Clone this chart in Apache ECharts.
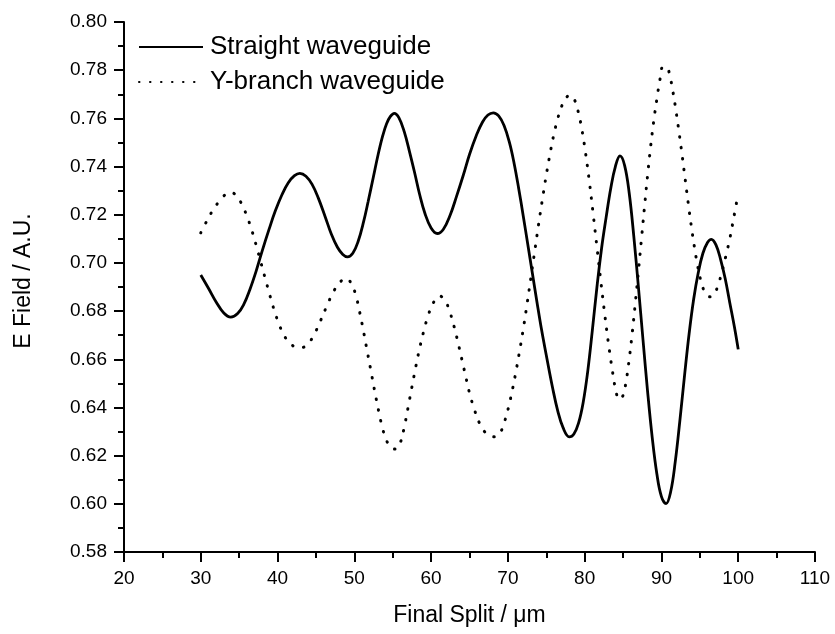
<!DOCTYPE html>
<html>
<head>
<meta charset="utf-8">
<script src="https://cdn.jsdelivr.net/npm/echarts@6/dist/echarts.min.js"></script>
<style>
html,body{margin:0;padding:0;background:#fff;}
#c{width:835px;height:634px;}
</style>
</head>
<body>
<div id="c"></div>
<script>
var xTicks = [20, 30, 40, 50, 60, 70, 80, 90, 100, 110];
var yTicks = [0.58, 0.60, 0.62, 0.64, 0.66, 0.68, 0.70, 0.72, 0.74, 0.76, 0.78, 0.80];
var seriesNames = ["Straight waveguide", "Y-branch waveguide"];

var straightX = [30.0, 31.0, 32.0, 33.0, 33.9, 34.8, 35.6, 36.4, 37.2, 38.0, 38.9, 39.7, 40.6, 41.4, 42.2, 42.9, 43.7, 44.5, 45.3, 46.2, 47.0, 47.8, 48.5, 49.1, 49.8, 50.5, 51.2, 51.8, 52.5, 53.1, 53.7, 54.2, 54.7, 55.2, 55.8, 56.5, 57.2, 57.9, 58.5, 59.2, 60.0, 60.8, 61.6, 62.5, 63.3, 64.2, 65.0, 65.9, 66.7, 67.4, 68.1, 68.8, 69.5, 70.2, 70.8, 71.4, 72.0, 72.6, 73.2, 73.8, 74.4, 75.1, 75.8, 76.5, 77.2, 78.0, 78.6, 79.2, 79.8, 80.4, 81.0, 81.6, 82.2, 82.8, 83.4, 84.0, 84.6, 85.2, 85.8, 86.4, 87.0, 87.6, 88.2, 88.8, 89.4, 90.0, 90.6, 91.2, 91.8, 92.4, 93.0, 93.6, 94.2, 94.8, 95.4, 96.0, 96.5, 97.1, 97.7, 98.3, 98.9, 99.5, 100.0];
var straightY = [0.6950, 0.6895, 0.6838, 0.6792, 0.6775, 0.6790, 0.6828, 0.6890, 0.6965, 0.7050, 0.7140, 0.7215, 0.7285, 0.7333, 0.7362, 0.7372, 0.7360, 0.7326, 0.7270, 0.7192, 0.7120, 0.7065, 0.7035, 0.7025, 0.7040, 0.7090, 0.7170, 0.7255, 0.7360, 0.7450, 0.7528, 0.7578, 0.7608, 0.7621, 0.7603, 0.7545, 0.7460, 0.7368, 0.7285, 0.7205, 0.7145, 0.7122, 0.7140, 0.7200, 0.7275, 0.7365, 0.7450, 0.7530, 0.7585, 0.7614, 0.7623, 0.7610, 0.7570, 0.7500, 0.7415, 0.7310, 0.7195, 0.7075, 0.6955, 0.6835, 0.6720, 0.6600, 0.6485, 0.6385, 0.6315, 0.6278, 0.6290, 0.6335, 0.6420, 0.6550, 0.6720, 0.6900, 0.7060, 0.7190, 0.7310, 0.7400, 0.7444, 0.7405, 0.7290, 0.7110, 0.6900, 0.6680, 0.6465, 0.6275, 0.6125, 0.6030, 0.6001, 0.6050, 0.6175, 0.6345, 0.6530, 0.6705, 0.6850, 0.6960, 0.7040, 0.7085, 0.7098, 0.7075, 0.7015, 0.6935, 0.6835, 0.6735, 0.6641];

var yBranchX = [30.0, 30.8, 31.6, 32.4, 33.0, 33.6, 34.2, 34.8, 35.4, 36.0, 36.6, 37.2, 37.8, 38.4, 39.0, 39.6, 40.2, 40.8, 41.5, 42.3, 43.2, 44.0, 44.8, 45.6, 46.4, 47.2, 48.0, 48.9, 49.6, 50.2, 50.7, 51.2, 51.7, 52.2, 52.7, 53.2, 53.7, 54.2, 54.8, 55.4, 56.0, 56.5, 57.0, 57.5, 58.0, 58.5, 59.0, 59.6, 60.3, 61.1, 61.8, 62.4, 63.0, 63.5, 64.0, 64.5, 65.0, 65.6, 66.3, 67.0, 67.7, 68.4, 69.0, 69.5, 70.0, 70.5, 71.0, 71.5, 72.0, 72.5, 73.0, 73.5, 74.0, 74.5, 75.0, 75.5, 76.0, 76.5, 77.0, 77.5, 78.1, 78.6, 79.1, 79.6, 80.1, 80.6, 81.1, 81.6, 82.1, 82.6, 83.1, 83.6, 84.0, 84.5, 85.0, 85.4, 85.8, 86.2, 86.6, 87.0, 87.4, 87.8, 88.2, 88.6, 89.0, 89.4, 89.8, 90.2, 90.7, 91.1, 91.5, 91.9, 92.3, 92.7, 93.1, 93.5, 93.9, 94.3, 94.7, 95.1, 95.6, 96.0, 96.4, 96.9, 97.4, 97.9, 98.4, 98.9, 99.4, 100.0];
var yBranchY = [0.7125, 0.7175, 0.7220, 0.7256, 0.7278, 0.7292, 0.7290, 0.7272, 0.7240, 0.7195, 0.7140, 0.7075, 0.7005, 0.6935, 0.6865, 0.6800, 0.6745, 0.6702, 0.6670, 0.6652, 0.6649, 0.6665, 0.6705, 0.6760, 0.6820, 0.6875, 0.6915, 0.6936, 0.6915, 0.6865, 0.6795, 0.6715, 0.6630, 0.6545, 0.6460, 0.6380, 0.6310, 0.6262, 0.6233, 0.6227, 0.6255, 0.6318, 0.6400, 0.6485, 0.6568, 0.6645, 0.6712, 0.6780, 0.6835, 0.6863, 0.6845, 0.6800, 0.6735, 0.6670, 0.6600, 0.6530, 0.6460, 0.6395, 0.6335, 0.6298, 0.6282, 0.6278, 0.6295, 0.6335, 0.6390, 0.6460, 0.6540, 0.6630, 0.6725, 0.6830, 0.6940, 0.7050, 0.7160, 0.7265, 0.7365, 0.7455, 0.7535, 0.7600, 0.7650, 0.7682, 0.7697, 0.7682, 0.7635, 0.7560, 0.7460, 0.7340, 0.7205, 0.7065, 0.6925, 0.6790, 0.6665, 0.6555, 0.6480, 0.6433, 0.6450, 0.6510, 0.6600, 0.6710, 0.6835, 0.6965, 0.7100, 0.7235, 0.7365, 0.7485, 0.7590, 0.7680, 0.7760, 0.7814, 0.7812, 0.7775, 0.7710, 0.7630, 0.7540, 0.7445, 0.7345, 0.7245, 0.7150, 0.7065, 0.6990, 0.6930, 0.6880, 0.6862, 0.6859, 0.6872, 0.6910, 0.6965, 0.7030, 0.7100, 0.7185, 0.7289];

function pairs(xs, ys) { return xs.map(function (x, i) { return [x, ys[i]]; }); }

var font = "'Liberation Sans', Arial, sans-serif";
var chart = echarts.init(document.getElementById('c'), null, { renderer: 'canvas' });
chart.setOption({
  backgroundColor: '#ffffff',
  animation: false,
  grid: { left: 124, right: 20, top: 22, bottom: 82, containLabel: false },
  legend: {
    show: true,
    orient: 'vertical',
    left: 133,
    top: 28,
    itemWidth: 64,
    itemHeight: 14,
    itemGap: 7,
    data: seriesNames,
    itemStyle: { opacity: 0 },
    textStyle: { fontFamily: font, fontSize: 26, color: '#000', lineHeight: 28, padding: [0, 0, 0, 2] }
  },
  xAxis: {
    type: 'value',
    min: xTicks[0],
    max: xTicks[xTicks.length - 1],
    interval: 10,
    name: 'Final Split / μm',
    nameLocation: 'middle',
    nameGap: 52,
    nameTextStyle: { fontFamily: font, fontSize: 23, color: '#000' },
    axisLine: { show: true, lineStyle: { color: '#000', width: 2 } },
    axisTick: { show: true, inside: false, length: 10, lineStyle: { color: '#000', width: 2 } },
    minorTick: { show: true, splitNumber: 2, length: 6, lineStyle: { color: '#000', width: 2 } },
    axisLabel: { fontFamily: font, fontSize: 19, color: '#000', margin: 17 },
    splitLine: { show: false }
  },
  yAxis: {
    type: 'value',
    min: yTicks[0],
    max: yTicks[yTicks.length - 1],
    interval: 0.02,
    name: 'E Field / A.U.',
    nameLocation: 'middle',
    nameGap: 89,
    nameTextStyle: { fontFamily: font, fontSize: 23, color: '#000', padding: [0, 0, 0, 12] },
    axisLine: { show: true, lineStyle: { color: '#000', width: 2 } },
    axisTick: { show: true, inside: false, length: 10, lineStyle: { color: '#000', width: 2 } },
    minorTick: { show: true, splitNumber: 2, length: 6, lineStyle: { color: '#000', width: 2 } },
    axisLabel: { fontFamily: font, fontSize: 19, color: '#000', margin: 17, formatter: function (v) { return v.toFixed(2); } },
    splitLine: { show: false }
  },
  series: [
    {
      name: seriesNames[0],
      type: 'line',
      data: pairs(straightX, straightY),
      smooth: 0.4,
      symbol: 'none',
      lineStyle: { color: '#000', width: 2.8 },
      itemStyle: { color: '#000' }
    },
    {
      name: seriesNames[1],
      type: 'line',
      data: pairs(yBranchX, yBranchY),
      smooth: 0.4,
      symbol: 'none',
      lineStyle: { color: '#000', width: 3, type: [0.5, 10.5], cap: 'round' },
      itemStyle: { color: '#000' }
    }
  ]
});
</script>
</body>
</html>
